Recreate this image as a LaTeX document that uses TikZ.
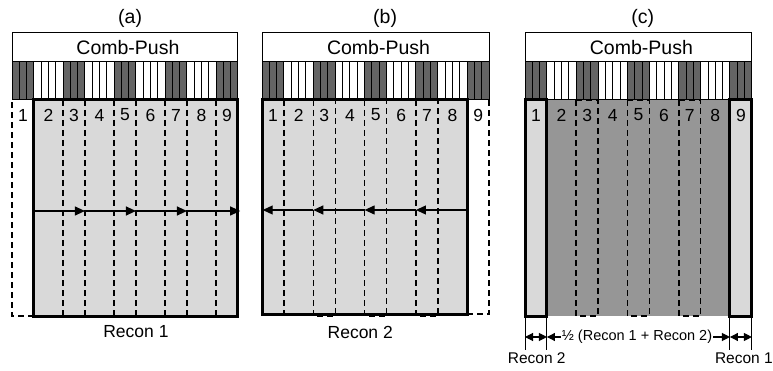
\documentclass[tikz,border=0pt]{standalone}
\usepackage{fontspec}
\setmainfont{Liberation Sans}
\usetikzlibrary{arrows.meta}
\definecolor{darkstripe}{RGB}{100,100,100}
\definecolor{lightfill}{RGB}{217,217,217}
\definecolor{midfill}{RGB}{150,150,150}
\tikzset{
  thickbox/.style={line width=3pt},
  dashln/.style={line width=1.6pt, dash pattern=on 6pt off 4pt},
  thinln/.style={line width=1pt},
  lbl/.style={font=\fontsize{17.5}{17.5}\selectfont, inner sep=0pt},
  ttl/.style={font=\fontsize{19.5}{19.5}\selectfont, inner sep=0pt},
  small/.style={font=\fontsize{14.5}{14.5}\selectfont, inner sep=1pt},
  arr/.style={line width=1.1pt, -{Triangle[length=10pt,width=9pt]}},
  dimarr/.style={line width=1.1pt, -{Triangle[length=8pt,width=8pt]}},
  dimarrb/.style={line width=1.1pt, {Triangle[length=8pt,width=8pt]}-{Triangle[length=8pt,width=8pt]}},
}
\newcommand\combstripes{%
  \foreach \i in {0,...,30}{%
    \pgfmathtruncatemacro\m{mod(\i,7)}%
    \ifnum\m<3
      \filldraw[fill=darkstripe,draw=black,thinln] (\i,62) rectangle (\i+1,100);
    \else
      \filldraw[fill=white,draw=black,thinln] (\i,62) rectangle (\i+1,100);
    \fi
  }%
}
\newcommand\combhead[1]{%
  \draw[fill=white,line width=1pt] (0,33) rectangle (31,62);
  \node[ttl] (#1cp) at (15.9,48) {Comb-Push};
  \combstripes
}
\newcommand\colnums[1]{%
  \foreach \n/\c in {1/1.5,2/5,3/8.5,4/12,5/15.5,6/19,7/22.5,8/26,9/29.5}
    \node[lbl] (#1d\n) at (\c,115) {\n};
}
\begin{document}
\begin{tikzpicture}[x=1pt,y=-1pt]
\useasboundingbox (0,0) rectangle (773,371);

% ---------------- panel (a)
\begin{scope}[xshift=12pt, x=7.29pt]
  \node[ttl] (ta) at (16.2,18) {(a)};
  \combhead{a}
  \fill[lightfill] (3,100) rectangle (31,316);
  \foreach \b in {7,10,14,17,21,24,28}
    \draw[dashln] (\b,100) -- (\b,316);
  \draw[dashln] (3,316) -- (0,316) -- (0,100);
  \draw[thickbox] (3,100) rectangle (31,316);
  \colnums{a}
  \coordinate (aA) at (3,211);
  \coordinate (aB) at (10,211);
  \coordinate (aC) at (17,211);
  \coordinate (aD) at (24,211);
  \coordinate (aE) at (31.3,211);
  \draw[arr] (aA) -- (aB);
  \draw[arr] (aB) -- (aC);
  \draw[arr] (aC) -- (aD);
  \draw[arr] (aD) -- (aE);
  \node[lbl] (ra) at (17,332) {Recon 1};
\end{scope}

% ---------------- panel (b)
\begin{scope}[xshift=262pt, x=7.33pt]
  \node[ttl] (tb) at (16.8,18) {(b)};
  \combhead{b}
  \fill[lightfill] (0,100) rectangle (28,314);
  \draw[dashln] (3,100) -- (3,314);
  \foreach \l/\r in {7/10,14/17,21/24}
    \draw[dashln] (\l,100) rectangle (\r,316);
  \draw[dashln] (28,314) -- (31,314) -- (31,100);
  \draw[thickbox] (0,100) rectangle (28,314);
  \colnums{b}
  \coordinate (bA) at (27.8,210);
  \coordinate (bB) at (21,210);
  \coordinate (bC) at (14,210);
  \coordinate (bD) at (7,210);
  \coordinate (bE) at (0.1,210);
  \draw[arr] (bA) -- (bB);
  \draw[arr] (bB) -- (bC);
  \draw[arr] (bC) -- (bD);
  \draw[arr] (bD) -- (bE);
  \node[lbl] (rb) at (13.4,332) {Recon 2};
\end{scope}

% ---------------- panel (c)
\begin{scope}[xshift=525pt, x=7.32pt]
  \node[ttl] (tc) at (16.1,18) {(c)};
  \combhead{c}
  \fill[lightfill] (0,100) rectangle (3,316);
  \fill[lightfill] (28,100) rectangle (31,316);
  \fill[midfill] (3,100) rectangle (28,316);
  \foreach \l/\r in {7/10,14/17,21/24}
    \draw[dashln] (\l,100) rectangle (\r,316);
  \draw[thickbox] (0,100) rectangle (3,316);
  \draw[thickbox] (28,100) rectangle (31,316);
  \colnums{c}
  % dimension lines
  \foreach \t in {0,3,28,31}{
    \coordinate (ct\t) at (\t,318);
    \coordinate (cb\t) at (\t,350);
    \coordinate (cm\t) at (\t,337);
    \draw[thinln] (ct\t) -- (cb\t);
  }
  \draw[dimarrb] (cm0) -- (cm3);
  \draw[dimarrb] (cm28) -- (cm31);
  \node[small] (half) at (15.3,337) {½ (Recon 1 + Recon 2)};
  \draw[dimarr] (half.west) -- (cm3);
  \draw[dimarr] (half.east) -- (cm28);
  \node[small, font=\fontsize{15.5}{15.5}\selectfont] (rc2) at (1.6,358) {Recon 2};
  \node[small, font=\fontsize{15.5}{15.5}\selectfont] (rc1) at (29.9,358) {Recon 1};
\end{scope}
\end{tikzpicture}
\end{document}
